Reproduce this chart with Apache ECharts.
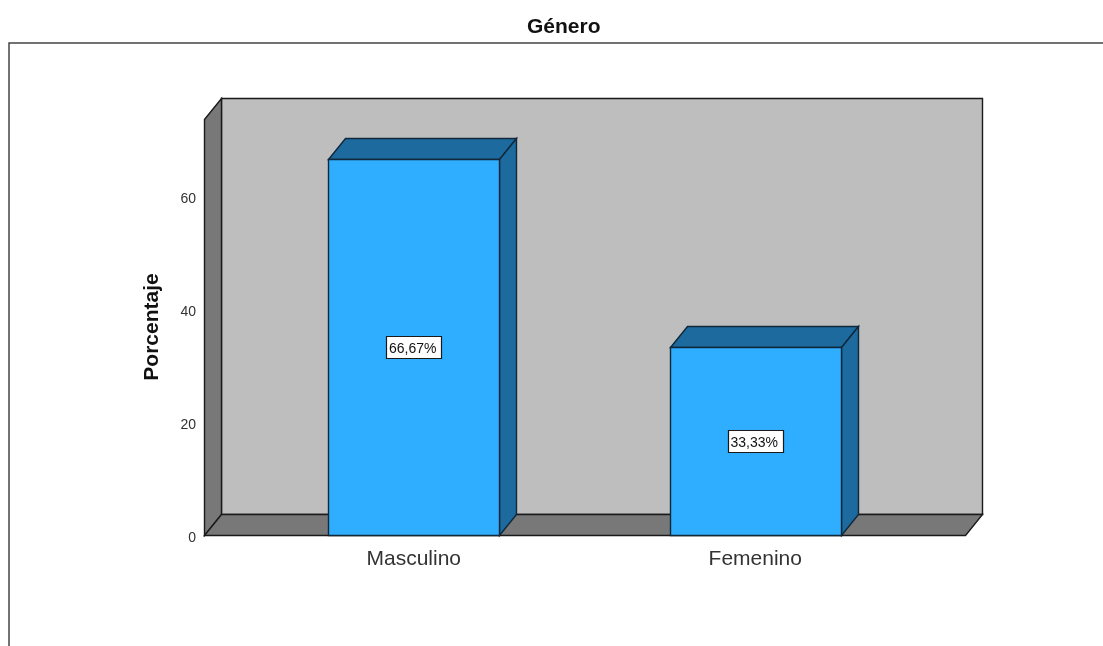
<!DOCTYPE html>
<html>
<head>
<meta charset="utf-8">
<style>
    html, body { margin: 0; padding: 0; background: #fff; }
    #chart { width: 1103px; height: 646px; }
</style>
<script src="https://cdn.jsdelivr.net/npm/echarts@6/dist/echarts.min.js"></script>
</head>
<body>
<div id="chart"></div>
<script>
const categories = ['Masculino', 'Femenino'];
const percentages = [66.67, 33.33];
const valueLabels = ['66,67%', '33,33%'];
const yTicks = [0, 20, 40, 60];
const yMax = 73.75;

// 3d look: depth offset of the back plane, and how far the walls go past the category band
const depthX = 17;
const depthY = 21;
const wallMargin = 39;
const edge = '#1a1a1a';
const barEdge = '#10283a';

const snap = (v) => Math.round(v) + 0.5;
const poly = (points, fill, stroke) => ({
    type: 'polygon',
    shape: { points },
    style: { fill, stroke, lineWidth: 1.4 },
});

function renderWalls(params, api) {
    const x0 = snap(params.coordSys.x - wallMargin);
    const x1 = snap(params.coordSys.x + params.coordSys.width + wallMargin);
    const yBottom = snap(api.coord([0, 0])[1]);
    const yTop = snap(api.coord([0, yMax])[1]);
    return {
        type: 'group',
        children: [
            poly([[x0 + depthX, yTop - depthY], [x1 + depthX, yTop - depthY], [x1 + depthX, yBottom - depthY], [x0 + depthX, yBottom - depthY]], '#bebebe', edge),
            poly([[x0, yTop], [x0 + depthX, yTop - depthY], [x0 + depthX, yBottom - depthY], [x0, yBottom]], '#787878', edge),
            poly([[x0, yBottom], [x0 + depthX, yBottom - depthY], [x1 + depthX, yBottom - depthY], [x1, yBottom]], '#787878', edge),
        ],
    };
}

function renderBar(params, api) {
    const idx = api.value(0);
    const val = api.value(1);
    const center = api.coord([idx, 0])[0];
    const half = api.size([1, 0])[0] * 0.25;
    const left = snap(center - half);
    const right = snap(center + half);
    const bottom = snap(api.coord([idx, 0])[1]);
    const top = snap(api.coord([idx, val])[1]);
    const mid = api.coord([idx, val / 2]);
    return {
        type: 'group',
        children: [
            poly([[left, top], [left + depthX, top - depthY], [right + depthX, top - depthY], [right, top]], '#1d6a9e', barEdge),
            poly([[right, top], [right + depthX, top - depthY], [right + depthX, bottom - depthY], [right, bottom]], '#1d6a9e', barEdge),
            poly([[left, top], [right, top], [right, bottom], [left, bottom]], '#2fadff', barEdge),
            {
                type: 'rect',
                shape: { x: snap(mid[0] - 27.5), y: snap(mid[1] - 11), width: 55, height: 22 },
                style: { fill: '#fff', stroke: '#1a1a1a', lineWidth: 1.2 },
            },
            {
                type: 'text',
                x: mid[0] - 1,
                y: mid[1] + 2,
                style: {
                    text: valueLabels[idx],
                    fill: '#111',
                    font: '14px "Liberation Sans"',
                    align: 'center',
                    verticalAlign: 'middle',
                },
            },
        ],
    };
}

const chart = echarts.init(document.getElementById('chart'), null, { renderer: 'canvas' });
chart.setOption({
    animation: false,
    backgroundColor: '#fff',
    title: {
        text: 'Género',
        left: 522,
        top: 12,
        textStyle: { fontFamily: 'Liberation Sans', fontSize: 21, fontWeight: 'bold', color: '#111' },
    },
    graphic: [
        {
            type: 'polyline',
            shape: { points: [[9, 646], [9, 43], [1103, 43]] },
            style: { stroke: '#444', lineWidth: 1.5, fill: null },
        },
    ],
    grid: { left: 243, right: 177, top: 119, bottom: 111 },
    xAxis: {
        type: 'category',
        data: categories,
        axisLine: { show: false },
        axisTick: { show: false },
        splitLine: { show: false },
        axisLabel: { fontFamily: 'Liberation Sans', fontSize: 21, color: '#333', margin: 14 },
    },
    yAxis: {
        type: 'value',
        min: 0,
        max: yMax,
        interval: 20,
        name: 'Porcentaje',
        nameLocation: 'middle',
        nameGap: 80,
        nameRotate: 90,
        nameTextStyle: { fontFamily: 'Liberation Sans', fontSize: 21, fontWeight: 'bold', color: '#111' },
        axisLine: { show: false },
        axisTick: { show: false },
        splitLine: { show: false },
        axisLabel: {
            customValues: yTicks,
            margin: 47,
            formatter: (v) => `{tick|${v}}`,
            rich: {
                tick: { fontFamily: 'Liberation Sans', fontSize: 14, color: '#333', padding: [6, 0, 0, 0] },
            },
        },
    },
    series: [
        { type: 'custom', silent: true, z: 1, clip: false, renderItem: renderWalls, data: [[0, 0]], encode: { x: 0, y: 1 } },
        {
            type: 'custom',
            silent: true,
            z: 2,
            clip: false,
            renderItem: renderBar,
            data: percentages.map((v, i) => [i, v]),
            encode: { x: 0, y: 1 },
        },
    ],
});
</script>
</body>
</html>
